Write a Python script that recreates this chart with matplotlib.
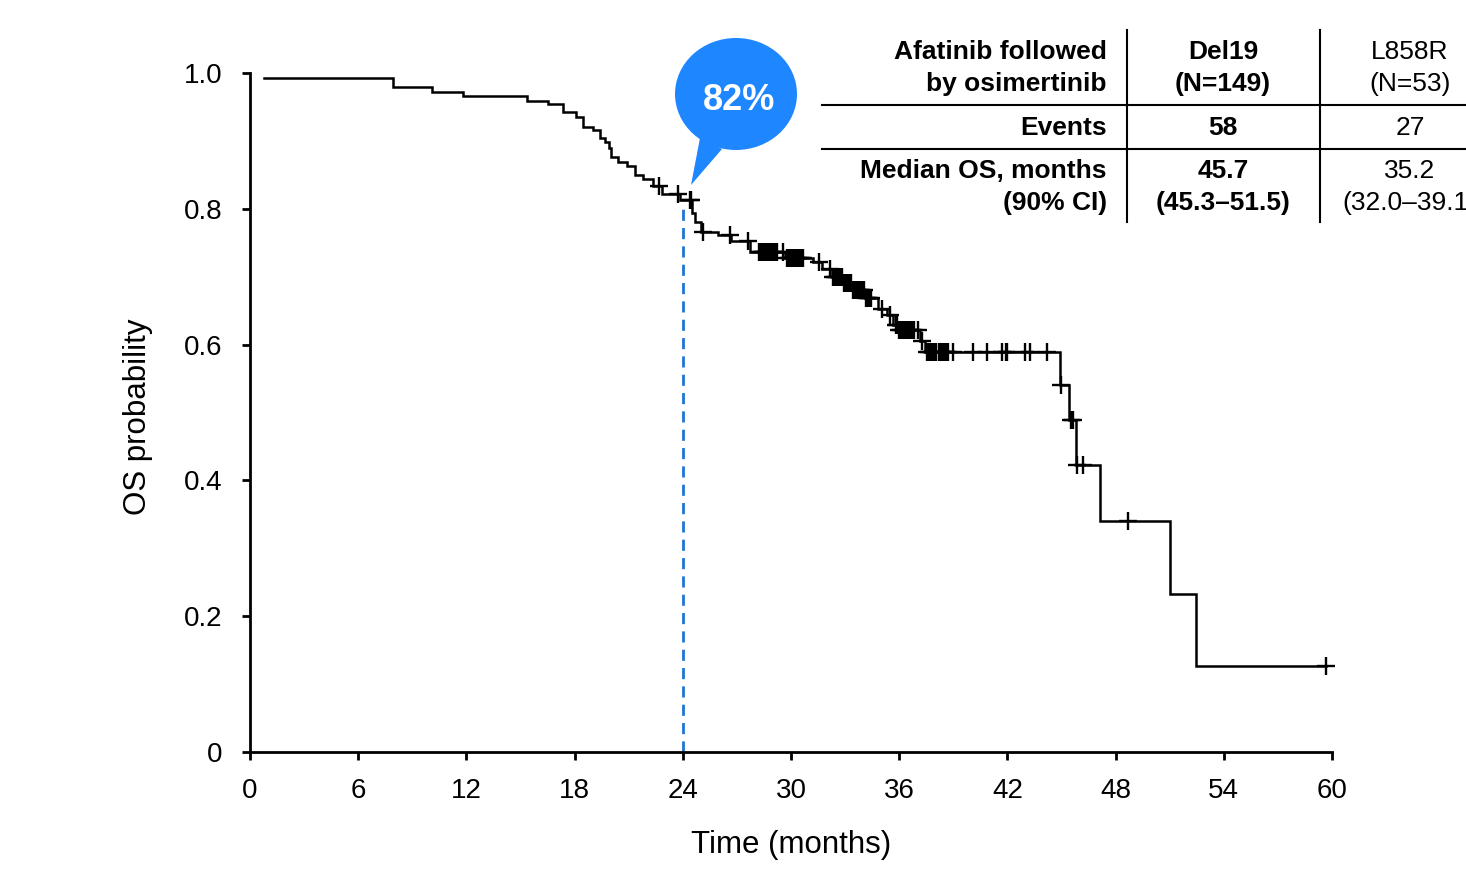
import numpy as np
import matplotlib
matplotlib.use("Agg")
import matplotlib.pyplot as plt
from matplotlib.patches import Ellipse, Polygon
from matplotlib.lines import Line2D

plt.rcParams['font.family'] = ['Liberation Sans', 'DejaVu Sans']

# ---------------- data ----------------
START_T = 0.78
START_S = 0.992
EVENT_T = [7.95, 10.08, 11.83, 15.35, 16.5, 17.38, 18.1, 18.49, 19.04, 19.41,
           19.69, 19.88, 20.02, 20.43, 20.89, 21.35, 21.8, 22.37, 22.83, 23.85,
           24.5, 24.68, 25.0, 25.95, 26.7, 27.7, 29.67, 31.24, 31.70, 32.26,
           32.9, 33.4, 34.1, 34.84, 35.31, 35.67, 36.0, 37.15, 37.45, 44.93,
           45.39, 45.81, 47.14, 50.99, 52.47]
EVENT_S = [0.980, 0.972, 0.966, 0.959, 0.954, 0.943, 0.935, 0.921, 0.916, 0.905,
           0.899, 0.889, 0.876, 0.869, 0.863, 0.850, 0.844, 0.833, 0.822, 0.813,
           0.794, 0.781, 0.766, 0.761, 0.752, 0.737, 0.727, 0.722, 0.712, 0.700,
           0.690, 0.680, 0.668, 0.653, 0.644, 0.629, 0.621, 0.605, 0.589, 0.540,
           0.489, 0.422, 0.340, 0.233, 0.126]
END_T = 59.66
CENSOR_T = [22.7, 23.73, 24.38, 24.46, 25.1, 26.6, 27.6,
            28.2, 28.3, 28.4, 28.5, 28.6, 28.7, 28.8, 28.9, 29.0, 29.1, 29.2,
            29.55,
            29.8, 29.9, 30.0, 30.1, 30.2, 30.3, 30.4, 30.5, 30.6, 30.68,
            31.55, 32.15,
            32.35, 32.45, 32.55, 32.65, 32.75, 32.85, 32.95, 33.05, 33.15, 33.25, 33.35,
            33.45, 33.55, 33.65, 33.75, 33.85, 33.95, 34.05, 34.15, 34.25, 34.35, 34.45,
            35.03, 35.49,
            35.8, 35.9, 36.0, 36.1, 36.2, 36.3, 36.4, 36.5, 36.6, 36.7,
            36.8, 37.05, 37.25,
            37.55, 37.65, 37.75, 37.85, 37.95, 38.05,
            38.2, 38.3, 38.4, 38.5, 38.6, 38.7,
            39.0, 40.12, 40.86, 41.68, 41.93, 42.0, 43.0, 43.27, 44.18,
            44.95, 45.5, 45.63, 45.85, 46.2, 48.7, 59.66]
LANDMARK_T = 24
LANDMARK_LABEL = "82%"

X_TICKS = [0, 6, 12, 18, 24, 30, 36, 42, 48, 54, 60]
Y_TICKS = [0, 0.2, 0.4, 0.6, 0.8, 1.0]
Y_TICKLABELS = ["0", "0.2", "0.4", "0.6", "0.8", "1.0"]

TABLE_ROW_LABELS = [["Afatinib followed", "by osimertinib"], ["Events"],
                    ["Median OS, months", "(90% CI)"]]
TABLE_DEL19 = [["Del19", "(N=149)"], ["58"], ["45.7", "(45.3\u201351.5)"]]
TABLE_L858R = [["L858R", "(N=53)"], ["27"], ["35.2", "(32.0\u201339.1)"]]

# ---------------- figure ----------------
W, H = 1466, 873
fig = plt.figure(figsize=(W / 100, H / 100), dpi=100)
ax = fig.add_axes([250 / W, 1 - 752 / H, (1332 - 250) / W, (752 - 73) / H])

t_all = np.array([START_T] + EVENT_T + [END_T])
s_all = np.array([START_S] + EVENT_S + [EVENT_S[-1]])
ax.step(t_all, s_all, where='post', color='black', lw=1.8, zorder=3,
        solid_joinstyle='miter')

ct = np.array(CENSOR_T)
idx = np.searchsorted(t_all, ct, side='right') - 1
cs = s_all[idx]
ax.plot(ct, cs, linestyle='none', marker='+', markersize=13, mew=1.7,
        color='black', zorder=4, clip_on=False)

# landmark dashed line
s_land = s_all[np.searchsorted(t_all, LANDMARK_T, side='right') - 1]
ax.vlines(LANDMARK_T, 0, s_land - 0.012, colors='#1f74d6', linestyles=(0, (4, 2.6)),
          lw=2, zorder=2)

ax.set_xlim(0, 60)
ax.set_ylim(0, 1)
ax.set_xticks(X_TICKS)
ax.set_xticklabels([str(v) for v in X_TICKS])
ax.set_yticks(Y_TICKS)
ax.set_yticklabels(Y_TICKLABELS)
for sp in ['top', 'right']:
    ax.spines[sp].set_visible(False)
for sp in ['left', 'bottom']:
    ax.spines[sp].set_linewidth(2)
ax.tick_params(axis='both', direction='out', length=6, width=2, labelsize=20,
               colors='black')
ax.tick_params(axis='x', pad=13)
ax.tick_params(axis='y', pad=14)

ax.set_xlabel("Time (months)", fontsize=22.5)
ax.xaxis.label.set_va('center')
ax.xaxis.set_label_coords(0.5, (752 - 845) / 679)
ax.set_ylabel("OS probability", fontsize=22.5)
ax.yaxis.label.set_va('center')
ax.yaxis.set_label_coords((138 - 250) / 1082, (752 - 416.5) / 679)

# ---------------- speech bubble ----------------
def inch(px, py):
    return (px / 100, (H - py) / 100)

tr = fig.dpi_scale_trans
bubble_col = '#1e86ff'
ell = Ellipse(inch(736, 94), 122 / 100, 112 / 100, transform=tr,
              facecolor=bubble_col, edgecolor='none', zorder=5)
tail = Polygon([inch(700, 138), inch(722, 149), inch(691, 185)], closed=True,
               transform=tr, facecolor=bubble_col, edgecolor='none', zorder=5)
fig.add_artist(ell)
fig.add_artist(tail)
fig.text(739 / W, 1 - 100 / H, LANDMARK_LABEL, color='white', fontsize=26,
         fontweight='bold', ha='center', va='center', zorder=6)

# ---------------- table ----------------
def fx(px):
    return px / W

def fy(py):
    return 1 - py / H

for xline in (1127, 1320):
    fig.add_artist(Line2D([fx(xline), fx(xline)], [fy(30), fy(222)],
                          transform=fig.transFigure, color='black', lw=1.5))
for yline in (105, 149):
    fig.add_artist(Line2D([fx(822), fx(1466)], [fy(yline), fy(yline)],
                          transform=fig.transFigure, color='black', lw=1.5))

row_y = [[52, 84], [128], [171, 203]]
fs_tab = 19
for r, ys in enumerate(row_y):
    for k, yy in enumerate(ys):
        fig.text(fx(1107), fy(yy), TABLE_ROW_LABELS[r][k], ha='right', va='center',
                 fontsize=fs_tab, fontweight='bold')
        fig.text(fx(1223), fy(yy), TABLE_DEL19[r][k], ha='center', va='center',
                 fontsize=fs_tab, fontweight='bold')
        fig.text(fx(1410), fy(yy), TABLE_L858R[r][k], ha='center', va='center',
                 fontsize=fs_tab)

fig.savefig("out.png", dpi=100)
